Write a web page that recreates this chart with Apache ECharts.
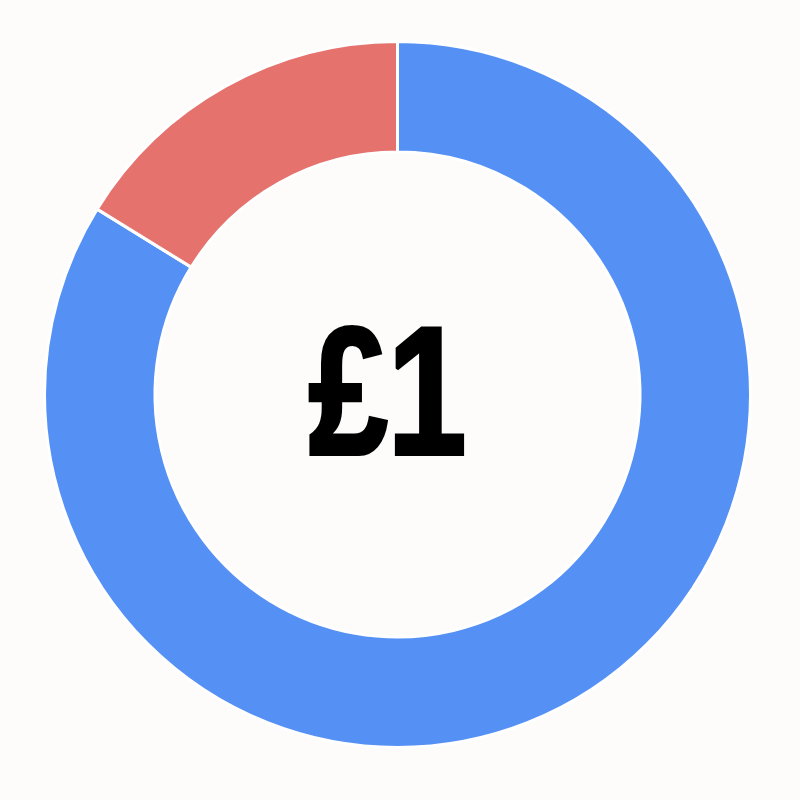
<!DOCTYPE html>
<html>
<head>
<meta charset="utf-8">
<script src="https://cdn.jsdelivr.net/npm/echarts@6/dist/echarts.min.js"></script>
<style>
html,body{margin:0;padding:0;background:#fdfcfb;}
#main{width:800px;height:800px;}
</style>
</head>
<body>
<div id="main"></div>
<script>
var categories = ['Blue', 'Red'];
var values = [83.8, 16.2];
var colors = ['#5590f5', '#e5726d'];
var centerLabel = '£1';

var chart = echarts.init(document.getElementById('main'));
chart.setOption({
  backgroundColor: '#fdfcfb',
  animation: false,
  series: [{
    type: 'pie',
    center: [397.5, 394.5],
    radius: [242.5, 353],
    startAngle: 90,
    clockwise: true,
    label: {show: false},
    labelLine: {show: false},
    itemStyle: {borderColor: '#ffffff', borderWidth: 3},
    data: categories.map(function (c, i) {
      return {name: c, value: values[i], itemStyle: {color: colors[i]}};
    })
  }],
  graphic: [{
    type: 'text',
    x: 387.6,
    y: 404.3,
    scaleX: 0.78,
    style: {
      text: centerLabel,
      fontFamily: 'Liberation Sans',
      fontWeight: 'bold',
      fontSize: 182,
      fill: '#000000',
      stroke: '#000000',
      lineWidth: 4,
      align: 'center',
      verticalAlign: 'middle'
    }
  }]
});
</script>
</body>
</html>
